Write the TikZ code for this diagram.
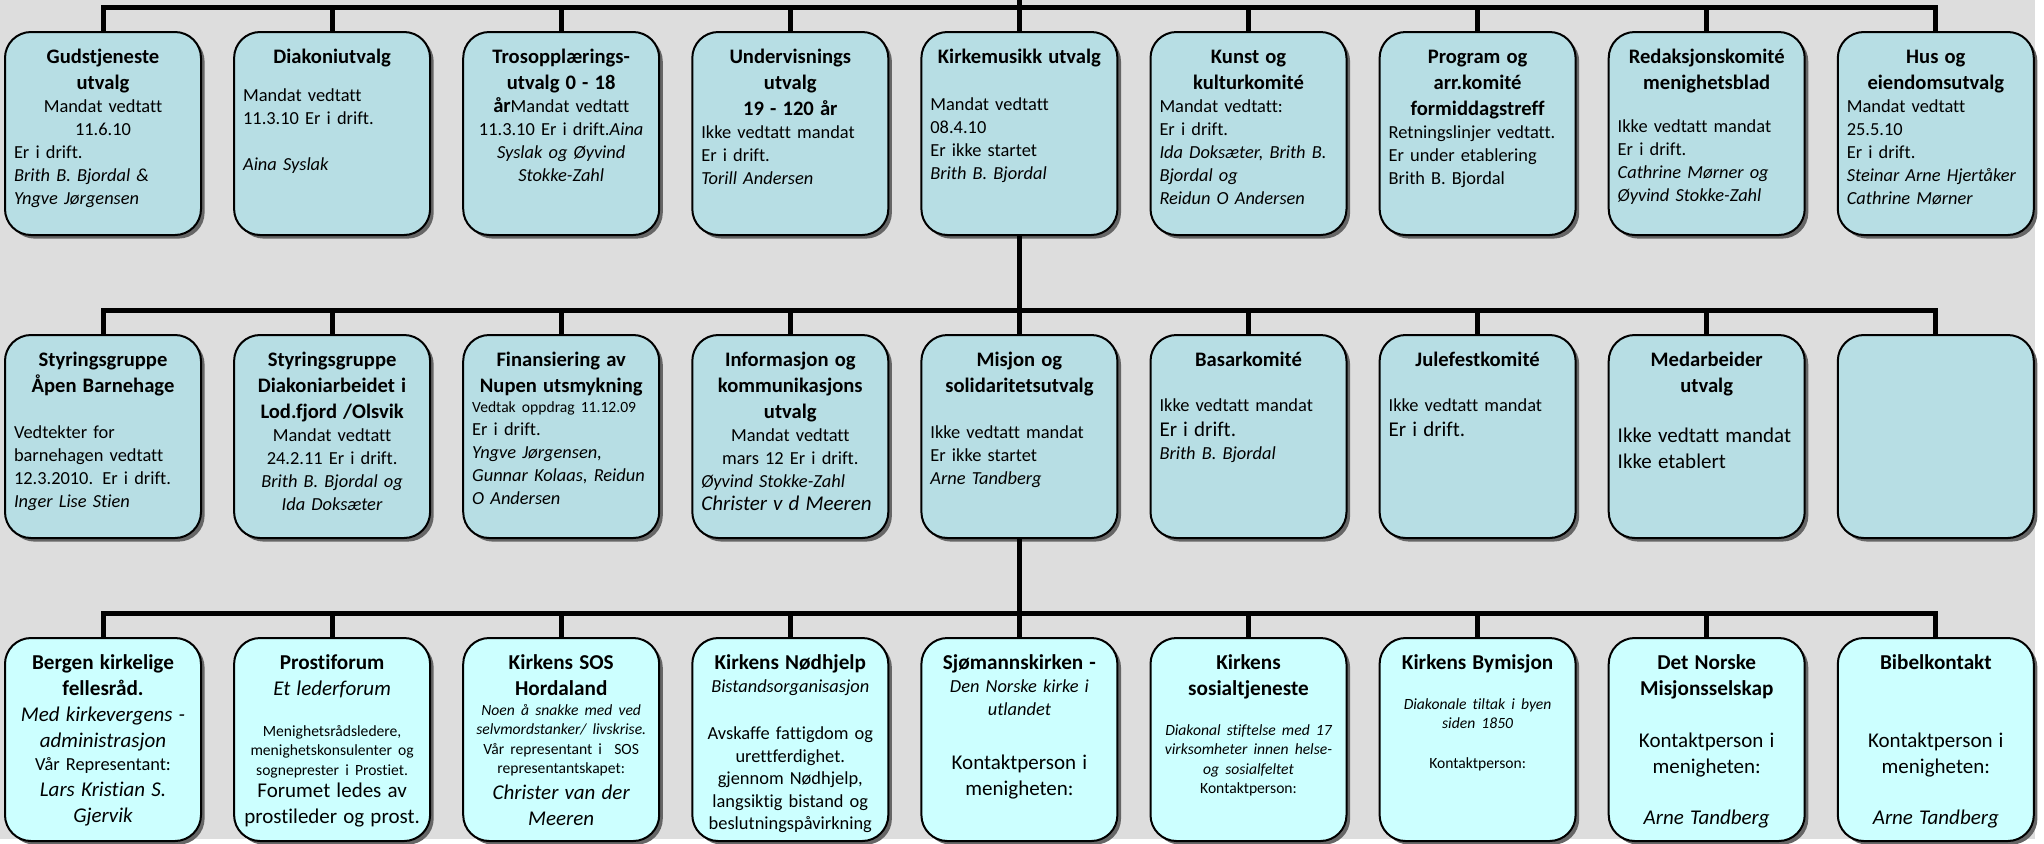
\documentclass[tikz,border=0pt]{standalone}
\usepackage{fontspec}
\setmainfont{Carlito}[Ligatures=NoCommon]
\usepackage{tikz}
\usetikzlibrary{positioning}
\usetikzlibrary{shadows}

\definecolor{boxteal}{RGB}{183,222,228}
\definecolor{boxcyan}{RGB}{204,255,255}
\definecolor{bggray}{RGB}{221,221,221}

\newcommand{\bsz}{\fontsize{9.2}{11.5}\selectfont}
\newcommand{\lsz}{\fontsize{10.5}{13}\selectfont}
\newcommand{\ssz}{\fontsize{7.8}{9.8}\selectfont}
\newcommand{\ttl}[2][10.3]{{\centering\bfseries\fontsize{#1}{13}\selectfont #2\par}}
\newcommand{\lft}[1]{{\raggedright #1\par}}
\newcommand{\ctr}[1]{{\centering #1\par}}

\begin{document}
\begin{tikzpicture}[node distance=50pt and 16.55pt,
		orgbox/.style={draw=black,line width=1pt,rounded corners=13pt,fill=boxteal,
			text width=89pt,align=left,text height=8pt,text depth=78pt,
			inner xsep=4.5pt,inner ysep=7.75pt,outer sep=0pt,font=\bsz,
			drop shadow={shadow xshift=1.8pt,shadow yshift=-1.8pt,fill=black!60,opacity=1}},
		linkbox/.style={orgbox,fill=boxcyan},
		conn/.style={line width=2.5pt}]
		\useasboundingbox (0,0) rectangle (1022pt,-421.5pt);
		\fill [bggray] (0,0) rectangle (1017.5pt,-419.5pt);

		% utvalg
		\node [orgbox] (gudstj) at (51.5pt,-66.75pt) {\ttl{Gudstjeneste\\utvalg}\ctr{Mandat vedtatt\\11.6.10}\lft{Er i drift.\\\textit{Brith B. Bjordal \&}\\\textit{Yngve Jørgensen}}};
		\node [orgbox,right=of gudstj] (diakoni) {\ttl{Diakoniutvalg}\vspace{7.5pt}\lft{Mandat vedtatt\\11.3.10 Er i drift.\\[11.5pt]\textit{Aina Syslak}}};
		\node [orgbox,right=of diakoni] (tros) {\ttl{Trosopplærings-\\utvalg 0 - 18}\ctr{{\bfseries\fontsize{10.3}{13}\selectfont år}Mandat vedtatt\\11.3.10 Er i drift.\textit{Aina}\\\textit{Syslak og Øyvind}\\\textit{Stokke-Zahl}}};
		\node [orgbox,right=of tros] (underv) {\ttl{Undervisnings\\utvalg\\19 - 120 år}\lft{Ikke vedtatt mandat\\Er i drift.\\\textit{Torill Andersen}}};
		\node [orgbox,right=of underv] (kirkemus) {\ttl{Kirkemusikk utvalg}\vspace{12pt}\lft{Mandat vedtatt\\08.4.10\\Er ikke startet\\\textit{Brith B. Bjordal}}};
		\node [orgbox,right=of kirkemus] (kunst) {\ttl{Kunst og\\kulturkomité}\lft{Mandat vedtatt:\\Er i drift.\\\textit{Ida Doksæter, Brith B.}\\\textit{Bjordal og}\\\textit{Reidun O Andersen}}};
		\node [orgbox,right=of kunst] (program) {\ttl{Program og\\arr.komité\\formiddagstreff}\lft{Retningslinjer vedtatt.\\Er under etablering\\Brith B. Bjordal}};
		\node [orgbox,right=of program] (redak) {\ttl{Redaksjonskomité\\menighetsblad}\vspace{10pt}\lft{Ikke vedtatt mandat\\Er i drift.\\\textit{Cathrine Mørner og}\\\textit{Øyvind Stokke-Zahl}}};
		\node [orgbox,right=of redak] (hus) {\ttl{Hus og\\eiendomsutvalg}\lft{Mandat vedtatt\\25.5.10\\Er i drift.\\\textit{Steinar Arne Hjertåker}\\\textit{Cathrine Mørner}}};

		% grupper og komiteer
		\node [orgbox,below=of gudstj] (aapen) {\ttl{Styringsgruppe\\Åpen Barnehage}\vspace{11.5pt}\lft{Vedtekter for\\barnehagen vedtatt\\12.3.2010. Er i drift.\\\textit{Inger Lise Stien}}};
		\node [orgbox,right=of aapen] (diakarb) {\ttl{Styringsgruppe\\Diakoniarbeidet i\\Lod.fjord /Olsvik}\ctr{Mandat vedtatt\\24.2.11 Er i drift.\\\textit{Brith B. Bjordal og}\\\textit{Ida Doksæter}}};
		\node [orgbox,right=of diakarb] (finans) {\ttl{Finansiering av\\Nupen utsmykning}\vspace{-1.5pt}\lft{{\ssz Vedtak oppdrag 11.12.09}\\Er i drift.\\\textit{Yngve Jørgensen,}\\\textit{Gunnar Kolaas, Reidun}\\\textit{O Andersen}}};
		\node [orgbox,right=of finans] (info) {\ttl{Informasjon og\\kommunikasjons\\utvalg}\ctr{Mandat vedtatt\\mars 12 Er i drift.}\lft{\textit{Øyvind Stokke-Zahl}\\{\lsz\itshape Christer v d Meeren}}};
		\node [orgbox,right=of info] (misjon) {\ttl{Misjon og\\solidaritetsutvalg}\vspace{11.5pt}\lft{Ikke vedtatt mandat\\Er ikke startet\\\textit{Arne Tandberg}}};
		\node [orgbox,right=of misjon] (basar) {\ttl{Basarkomité}\vspace{11pt}\lft{Ikke vedtatt mandat\\[1pt]{\lsz Er i drift.}\\\textit{Brith B. Bjordal}}};
		\node [orgbox,right=of basar] (julefest) {\ttl{Julefestkomité}\vspace{11pt}\lft{Ikke vedtatt mandat\\[1pt]{\lsz Er i drift.}}};
		\node [orgbox,right=of julefest] (medarb) {\ttl{Medarbeider\\utvalg}\vspace{12pt}\lft{\lsz Ikke vedtatt mandat\\Ikke etablert}};
		\node [orgbox,right=of medarb] (tom) {};

		% samarbeidspartnere
		\node [linkbox,below=of aapen] (bkf) {\ttl[10.6]{Bergen kirkelige\\fellesråd.}\ctr{\lsz\itshape Med kirkevergens -\\administrasjon}\ctr{Vår Representant:}\ctr{\lsz\itshape Lars Kristian S.\\Gjervik}};
		\node [linkbox,right=of bkf] (prosti) {\ttl[10.6]{Prostiforum}\ctr{\lsz\itshape Et lederforum}\vspace{10.5pt}\ctr{\ssz Menighetsrådsledere,\\menighetskonsulenter og\\sogneprester i Prostiet.}\vspace{-2pt}\ctr{\lsz Forumet ledes av\\prostileder og prost.}};
		\node [linkbox,right=of prosti] (sos) {\ttl[10.6]{Kirkens SOS\\Hordaland}\ctr{\ssz\itshape Noen å snakke med ved\\selvmordstanker/ livskrise.}\ctr{\ssz Vår representant i\ \ SOS\\representantskapet:}\ctr{\lsz\itshape Christer van der\\Meeren}};
		\node [linkbox,right=of sos] (nodhj) {\ttl[10.6]{Kirkens Nødhjelp}\ctr{\itshape Bistandsorganisasjon}\vspace{12.5pt}\ctr{\fontsize{9.2}{11.2}\selectfont Avskaffe fattigdom og\\urettferdighet.\\gjennom Nødhjelp,\\langsiktig bistand og\\beslutningspåvirkning}};
		\node [linkbox,right=of nodhj] (sjomann) {\ttl[10.6]{Sjømannskirken -}\ctr{\itshape Den Norske kirke i\\utlandet}\vspace{14pt}\ctr{\lsz Kontaktperson i\\menigheten:}};
		\node [linkbox,right=of sjomann] (sosial) {\ttl[10.6]{Kirkens\\sosialtjeneste}\vspace{10pt}\ctr{\ssz\itshape Diakonal stiftelse med 17\\virksomheter innen helse-\\og sosialfeltet}\ctr{\ssz Kontaktperson:}};
		\node [linkbox,right=of sosial] (bymisjon) {\ttl[10.6]{Kirkens Bymisjon}\vspace{10pt}\ctr{\ssz\itshape Diakonale tiltak i byen\\siden 1850}\vspace{10pt}\ctr{\ssz Kontaktperson:}};
		\node [linkbox,right=of bymisjon] (nms) {\ttl[10.6]{Det Norske\\Misjonsselskap}\vspace{13pt}\ctr{\lsz Kontaktperson i\\menigheten:}\vspace{12.5pt}\ctr{\lsz\itshape Arne Tandberg}};
		\node [linkbox,right=of nms] (bibel) {\ttl[10.6]{Bibelkontakt}\vspace{26pt}\ctr{\lsz Kontaktperson i\\menigheten:}\vspace{12.5pt}\ctr{\lsz\itshape Arne Tandberg}};

		% linjer
		\draw [conn] (kirkemus.north) -- ++(0,20pt);
		\draw [conn] (gudstj.north) -- ++(0,12.5pt) -| (hus.north);
		\draw [conn] (diakoni.north) -- ++(0,12.5pt) (tros.north) -- ++(0,12.5pt) (underv.north) -- ++(0,12.5pt) (kirkemus.north) -- ++(0,12.5pt);
		\draw [conn] (kunst.north) -- ++(0,12.5pt) (program.north) -- ++(0,12.5pt) (redak.north) -- ++(0,12.5pt);

		\draw [conn] (kirkemus.south) -- (misjon.north);
		\draw [conn] (aapen.north) -- ++(0,12.5pt) -| (tom.north);
		\draw [conn] (diakarb.north) -- ++(0,12.5pt) (finans.north) -- ++(0,12.5pt) (info.north) -- ++(0,12.5pt);
		\draw [conn] (basar.north) -- ++(0,12.5pt) (julefest.north) -- ++(0,12.5pt) (medarb.north) -- ++(0,12.5pt);

		\draw [conn] (misjon.south) -- (sjomann.north);
		\draw [conn] (bkf.north) -- ++(0,12.5pt) -| (bibel.north);
		\draw [conn] (prosti.north) -- ++(0,12.5pt) (sos.north) -- ++(0,12.5pt) (nodhj.north) -- ++(0,12.5pt);
		\draw [conn] (sosial.north) -- ++(0,12.5pt) (bymisjon.north) -- ++(0,12.5pt) (nms.north) -- ++(0,12.5pt);
	\end{tikzpicture}
\end{document}
